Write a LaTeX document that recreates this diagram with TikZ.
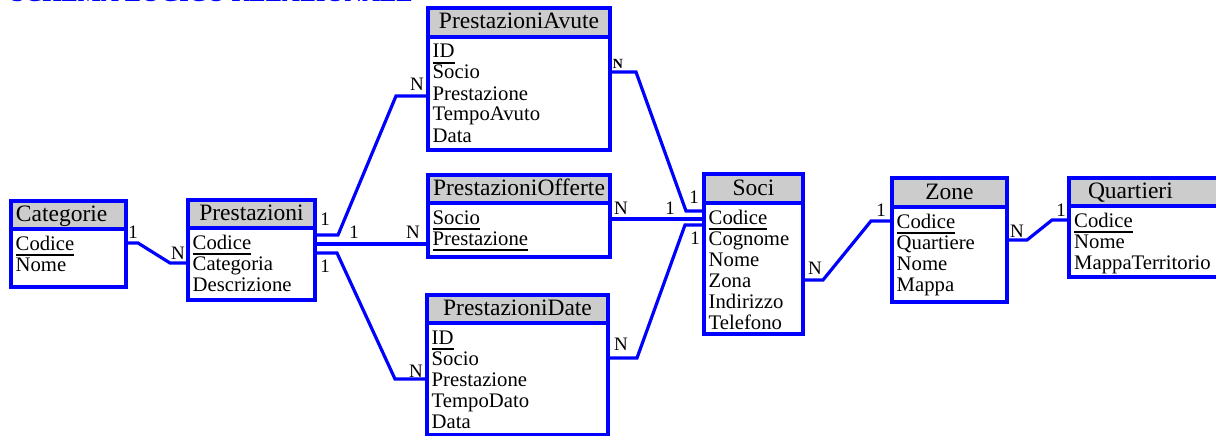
\documentclass[tikz,border=0pt]{standalone}
\usepackage{fontspec}
\setmainfont{Liberation Serif}
\usetikzlibrary{positioning}
\newcommand\pk[1]{\setbox0\hbox{#1}\rlap{\rule[-6pt]{\wd0}{2.4pt}}\box0}
\tikzset{
 tabhead/.style={draw=blue,line width=3.2pt,fill=black!20,anchor=north west,inner sep=0pt,outer sep=0pt,text height=16pt,text depth=3pt,font=\fontsize{23.5pt}{26pt}\selectfont},
 tabbody/.style={draw=blue,line width=3.2pt,fill=white,inner sep=0pt,outer sep=0pt},
 field/.style={anchor=base west,inner sep=0pt,text height=14pt,text depth=0pt,font=\fontsize{20.7pt}{21pt}\selectfont},
 card/.style={inner sep=0pt,font=\fontsize{19pt}{20pt}\selectfont},
 link/.style={draw=blue,line width=3.2pt}
}
\begin{document}
\begin{tikzpicture}[x=1pt,y=-1pt]
\useasboundingbox (0,0) rectangle (1216,436);
\clip (0,0) rectangle (1216,436);
\node[anchor=base west,inner sep=0pt,text=blue,font=\bfseries\fontsize{24.5pt}{26pt}\selectfont] (title) at (11,2) {SCHEMA LOGICO RELAZIONALE};

\node[tabhead,minimum width=115pt,minimum height=28pt,text width=105pt,align=left] (cat-h) at (11,201) {Categorie};
\node[tabbody,minimum width=115pt,minimum height=58pt,below=0pt of cat-h] (cat) {};
\foreach \f [count=\i] in {\pk{Codice},Nome}
 \node[field] (cat-\i) at ([xshift=4.5pt,yshift={-21pt*\i}]cat.north west) {\f};

\node[tabhead,minimum width=127pt,minimum height=28pt] (prest-h) at (188,200) {Prestazioni};
\node[tabbody,minimum width=127pt,minimum height=72pt,below=0pt of prest-h] (prest) {};
\foreach \f [count=\i] in {\pk{Codice},Categoria,Descrizione}
 \node[field] (prest-\i) at ([xshift=4.5pt,yshift={-21pt*\i}]prest.north west) {\f};

\node[tabhead,minimum width=182pt,minimum height=29pt] (avute-h) at (428,8) {PrestazioniAvute};
\node[tabbody,minimum width=182pt,minimum height=113pt,below=0pt of avute-h] (avute) {};
\foreach \f [count=\i] in {\pk{ID},Socio,Prestazione,TempoAvuto,Data}
 \node[field] (avute-\i) at ([xshift=4.5pt,yshift={-21pt*\i}]avute.north west) {\f};

\node[tabhead,minimum width=182pt,minimum height=28pt] (offerte-h) at (428,175) {PrestazioniOfferte};
\node[tabbody,minimum width=182pt,minimum height=54pt,below=0pt of offerte-h] (offerte) {};
\foreach \f [count=\i] in {\pk{Socio},\pk{Prestazione}}
 \node[field] (offerte-\i) at ([xshift=4.5pt,yshift={-21pt*\i}]offerte.north west) {\f};

\node[tabhead,minimum width=181pt,minimum height=28pt] (date-h) at (427,295) {PrestazioniDate};
\node[tabbody,minimum width=181pt,minimum height=112pt,below=0pt of date-h] (date) {};
\foreach \f [count=\i] in {\pk{ID},Socio,Prestazione,TempoDato,Data}
 \node[field] (date-\i) at ([xshift=4.5pt,yshift={-21pt*\i}]date.north west) {\f};

\node[tabhead,minimum width=99pt,minimum height=29pt] (soci-h) at (704,174) {Soci};
\node[tabbody,minimum width=99pt,minimum height=131pt,below=0pt of soci-h] (soci) {};
\foreach \f [count=\i] in {\pk{Codice},Cognome,Nome,Zona,Indirizzo,Telefono}
 \node[field] (soci-\i) at ([xshift=4.5pt,yshift={-21pt*\i}]soci.north west) {\f};

\node[tabhead,minimum width=115pt,minimum height=29pt] (zone-h) at (892,178) {Zone};
\node[tabbody,minimum width=115pt,minimum height=95pt,below=0pt of zone-h] (zone) {};
\foreach \f [count=\i] in {\pk{Codice},Quartiere,Nome,Mappa}
 \node[field] (zone-\i) at ([xshift=4.5pt,yshift={-21pt*\i}]zone.north west) {\f};

\node[tabhead,minimum width=150pt,minimum height=28pt,text width=112pt,align=left] (quart-h) at (1069,178) {Quartieri};
\node[tabbody,minimum width=150pt,minimum height=71pt,below=0pt of quart-h] (quart) {};
\foreach \f [count=\i] in {\pk{Codice},Nome,MappaTerritorio}
 \node[field] (quart-\i) at ([xshift=5pt,yshift={-21pt*\i}]quart.north west) {\f};

\draw[link] (cat.east |- cat-1) -- ++(12,0) -- ([xshift=-18pt]prest.west |- prest-2) -- (prest.west |- prest-2);
\draw[link] ([yshift=7pt]prest.east |- prest-1) -- ++(23,0) -- ([xshift=-32pt,yshift=-3pt]avute.west |- avute-3) -- ([yshift=-3pt]avute.west |- avute-3);
\draw[link] ([yshift=-2pt]prest.east |- prest-1) -- ([yshift=-2pt]offerte.west |- prest-1);
\draw[link] ([yshift=-11pt]prest.east |- prest-1) -- ++(22,0) -- ([xshift=-32pt]date.west |- date-3) -- (date.west |- date-3);
\draw[link] (avute.east |- avute-2) -- ++(26,0) -- ([xshift=-18pt,yshift=6pt]soci.west |- soci-1) -- ([yshift=6pt]soci.west |- soci-1);
\draw[link] ([yshift=-2pt]offerte.east |- offerte-1) -- ([yshift=-2pt]soci.west |- offerte-1);
\draw[link] (date.east |- date-2) -- ++(29,0) -- ([xshift=-19pt,yshift=-8pt]soci.west |- soci-1) -- ([yshift=-8pt]soci.west |- soci-1);
\draw[link] (soci.east |- soci-4) -- ++(20,0) -- ([xshift=-21pt]zone.west |- zone-1) -- (zone.west |- zone-1);
\draw[link] ([yshift=2pt]zone.east |- zone-2) -- ++(20,0) -- ([xshift=-17pt]quart.west |- quart-1) -- (quart.west |- quart-1);

\foreach \x/\y/\t [count=\k] in {133/232/1,178/253/N,325/219/1,354/232/1,413/232/N,325/266/1,417/84/N,416/371/N,694/197/1,621/208/N,670/208/1,621/344/N,695/238/1,815/268/N,881/210/1,1017/231/N,1061/210/1}
 \node[card] (card-\k) at (\x,\y) {\t};
\node[card,font=\bfseries\fontsize{14pt}{15pt}\selectfont] (card-avute) at (618,64) {N};
\end{tikzpicture}
\end{document}
